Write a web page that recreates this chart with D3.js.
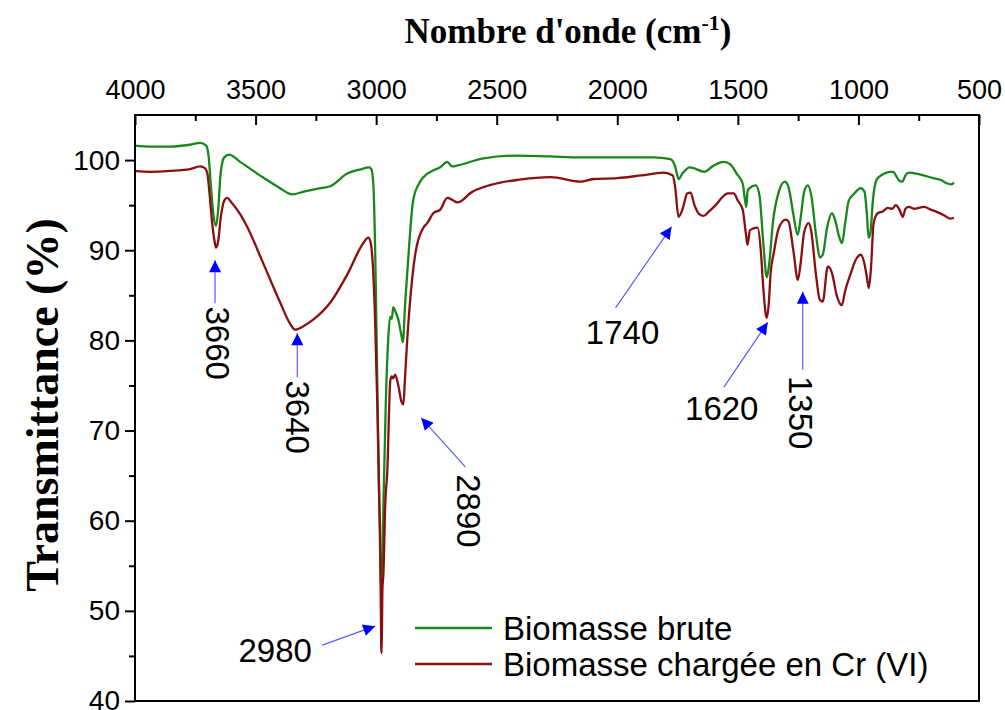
<!DOCTYPE html>
<html>
<head>
<meta charset="utf-8">
<script src="https://cdn.jsdelivr.net/npm/d3@7.9.0/dist/d3.min.js"></script>
<style>
  body { margin: 0; background: #fff; }
  svg { display: block; }
  .tick text { font-family: "Liberation Sans", Arial, sans-serif; }
</style>
</head>
<body>
<svg id="chart" width="1005" height="710"></svg>
<script>
// ----- data -----
const xMajor = [4000, 3500, 3000, 2500, 2000, 1500, 1000, 500];
const yMajor = [40, 50, 60, 70, 80, 90, 100];

// Biomasse brute (green)
const bruteWave = [4000, 3938, 3855, 3772, 3730, 3705, 3695, 3685, 3675, 3664, 3655, 3645, 3630, 3610, 3564,
  3470, 3400, 3348, 3300, 3230, 3190, 3120, 3060, 3030, 3020, 3012, 3004, 2995, 2987, 2981, 2978, 2974,
  2970, 2960, 2950, 2942, 2935, 2929, 2920, 2908, 2895, 2889, 2880, 2871, 2846, 2820, 2804, 2760, 2734,
  2705, 2685, 2663, 2555, 2414, 2277, 2152, 2000, 1850, 1780, 1760, 1746, 1730, 1700, 1683, 1640, 1600,
  1559, 1530, 1505, 1480, 1470, 1465, 1460, 1455, 1425, 1410, 1395, 1380, 1370, 1355, 1330, 1305, 1290,
  1270, 1252, 1240, 1225, 1210, 1195, 1175, 1160, 1148, 1130, 1110, 1095, 1080, 1068, 1055, 1040, 1020,
  990, 975, 965, 958, 950, 940, 925, 900, 870, 855, 845, 830, 818, 805, 790, 760, 730, 690, 660, 630, 615, 604];
const bruteT = [101.6, 101.5, 101.5, 101.7, 101.9, 101.6, 100.5, 97, 94, 92.7, 94.5, 98.5, 100.3, 100.6, 99.8,
  98.1, 96.9, 96.2, 96.5, 96.9, 97.1, 98.5, 99.0, 99.2, 99.0, 97.5, 90, 75, 62, 53.5, 52.5, 55,
  61.6, 73, 80.1, 82.6, 82.4, 83.7, 83.2, 82.3, 80.5, 79.8, 84, 87.5, 95.6, 97.5, 98.1, 98.9, 99.2,
  99.8, 99.3, 99.4, 100.2, 100.5, 100.4, 100.3, 100.3, 100.3, 100.1, 99.3, 97.9, 98.5, 99.2, 99.1, 98.7, 99.4,
  99.8, 99.5, 98.5, 97.4, 95.5, 94.8, 96.5, 96.8, 97.2, 96.0, 91, 87, 88.5, 93, 96.5, 97.6, 97.0,
  94, 91.7, 93.5, 96.5, 97.2, 96.0, 91.5, 89.2, 89.5, 92.5, 94.1, 93.2, 91.5, 90.8, 93, 95.5, 96.2,
  96.9, 96.5, 94, 91.4, 92, 95.5, 97.8, 98.4, 98.7, 98.7, 98.3, 97.7, 97.6, 98.3, 98.6, 98.5, 98.3, 98.0, 97.8, 97.4, 97.3, 97.5];

// Biomasse chargee en Cr (VI) (dark red)
const chargeWave = [4000, 3938, 3855, 3772, 3730, 3710, 3700, 3690, 3680, 3670, 3664, 3655, 3645, 3630, 3618,
  3600, 3564, 3535, 3469, 3398, 3360, 3336, 3300, 3261, 3190, 3120, 3053, 3033, 3024, 3012, 3004, 2995,
  2987, 2983, 2979, 2977, 2974, 2970, 2962, 2954, 2941, 2935, 2929, 2921, 2908, 2895, 2887, 2880, 2871,
  2850, 2837, 2804, 2788, 2763, 2734, 2705, 2685, 2663, 2600, 2555, 2485, 2414, 2277, 2152, 2100, 1999,
  1900, 1808, 1770, 1760, 1746, 1730, 1710, 1696, 1680, 1660, 1642, 1620, 1592, 1560, 1542, 1517, 1500,
  1480, 1467, 1460, 1450, 1438, 1418, 1405, 1395, 1385, 1380, 1372, 1364, 1351, 1330, 1301, 1290, 1270,
  1251, 1240, 1225, 1206, 1195, 1177, 1160, 1148, 1127, 1110, 1090, 1069, 1055, 1031, 1010, 990, 975,
  965, 957, 948, 937, 920, 900, 878, 860, 845, 830, 816, 805, 791, 770, 728, 700, 670, 640, 620, 604];
const chargeT = [98.8, 98.7, 98.8, 99.0, 99.3, 99.1, 98.5, 96, 93, 91, 90.3, 91, 93.5, 95.5, 95.8,
  95.3, 94, 92.6, 88.6, 84.2, 82.0, 81.2, 81.6, 82.3, 84.2, 87.3, 90.8, 91.4, 91.0, 87.5, 82, 72.6,
  62, 57.9, 46, 45.3, 52.4, 54, 62, 65.3, 75.6, 76.0, 75.8, 76.2, 75.0, 73.2, 72.9, 76, 80.1,
  87, 89.7, 92.5, 93.0, 94.1, 94.5, 95.8, 95.6, 95.3, 96.5, 97.0, 97.5, 97.8, 98.1, 97.6, 97.9, 98.0,
  98.3, 98.6, 98.3, 97, 93.7, 94.5, 96.3, 96.4, 95, 94, 93.8, 94.3, 95.0, 96, 96.3, 96.3, 95.5,
  94.5, 91.9, 90.6, 92.2, 92.4, 92.5, 90, 86, 83, 82.5, 84, 87.5, 89.7, 92.5, 93.4, 93.2, 90,
  86.7, 88.5, 92, 93.0, 92, 87.5, 84.5, 84.3, 88.2, 87.5, 85, 83.9, 85.5, 87.5, 89.0, 89.5, 88.5,
  87, 85.8, 88, 93, 94.1, 94.3, 94.7, 94.6, 95.0, 94.5, 93.7, 94.6, 94.8, 94.6, 94.8, 94.5, 94.2, 93.8, 93.5, 93.6];

const seriesNames = ["Biomasse brute", "Biomasse chargée en Cr (VI)"];
const seriesColors = ["#16881a", "#8b0f0f"];

// annotated bands: label, arrow tip (wavenumber, transmittance)
const bandLabels = ["3660", "3640", "2980", "2890", "1740", "1620", "1350"];
const bandWave = [3668, 3327, 3004, 2813, 1775, 1376, 1231];
const bandT = [88.9, 80.8, 48.3, 71.4, 92.6, 82.0, 85.4];

// ----- layout -----
const M = { left: 135, right: 979, top: 115, bottom: 701 };
// arrow tail and label placement relative to the tip (pixels), rot = vertical text
const bandLayout = [
  { tail: [0, 43], text: [2, 83], rot: true },
  { tail: [0, 44], text: [0, 84], rot: true },
  { tail: [-53, 19], text: [-100, 24], rot: false },
  { tail: [44, 49], text: [47, 93], rot: true },
  { tail: [-56, 81], text: [-49, 106], rot: false },
  { tail: [-44, 65], text: [-46, 86], rot: false },
  { tail: [0, 78], text: [-2, 121], rot: true }
];

const svg = d3.select("#chart");
svg.append("rect").attr("width", 1005).attr("height", 710).attr("fill", "#fff");

const x = d3.scaleLinear().domain([4000, 500]).range([M.left, M.right]);
const y = d3.scaleLinear().domain([40, 105]).range([M.bottom, M.top]);

// ----- curves -----
const line = d3.line()
  .x(d => x(d[0]))
  .y(d => y(d[1]))
  .curve(d3.curveMonotoneX);

const series = [
  d3.zip(bruteWave, bruteT),
  d3.zip(chargeWave, chargeT)
];

svg.append("g").selectAll("path")
  .data(series)
  .join("path")
  .attr("d", line)
  .attr("fill", "none")
  .attr("stroke", (d, i) => seriesColors[i])
  .attr("stroke-width", 2.3)
  .attr("stroke-linejoin", "round");

// ----- axes -----
const topAxis = svg.append("g").attr("transform", `translate(0,${M.top})`)
  .call(d3.axisTop(x).tickValues(xMajor).tickSize(-10).tickPadding(16).tickFormat(d3.format("d")));
svg.append("g").attr("transform", `translate(0,${M.top})`)
  .call(d3.axisTop(x).tickValues(xMajor.slice(0, -1).map(v => v - 250)).tickSize(-6).tickFormat(""));

const leftAxis = svg.append("g").attr("transform", `translate(${M.left},0)`)
  .call(d3.axisLeft(y).tickValues(yMajor).tickSize(10).tickPadding(5));
svg.append("g").attr("transform", `translate(${M.left},0)`)
  .call(d3.axisLeft(y).tickValues(yMajor.slice(0, -1).map(v => v + 5)).tickSize(6).tickFormat(""));

svg.selectAll(".domain").remove();
svg.selectAll(".tick line").attr("stroke", "#000").attr("stroke-width", 2);
topAxis.selectAll("text").attr("font-size", 27).attr("fill", "#000");
leftAxis.selectAll("text").attr("font-size", 28).attr("fill", "#000");

// frame
svg.append("rect")
  .attr("x", M.left).attr("y", M.top)
  .attr("width", M.right - M.left).attr("height", M.bottom - M.top)
  .attr("fill", "none").attr("stroke", "#000").attr("stroke-width", 2);

// axis titles
const xTitle = svg.append("text")
  .attr("x", 568).attr("y", 43)
  .attr("text-anchor", "middle")
  .attr("font-family", "'Liberation Serif', 'Times New Roman', serif")
  .attr("font-weight", "bold").attr("font-size", 35);
xTitle.append("tspan").text("Nombre d'onde (cm");
xTitle.append("tspan").attr("dy", -13).attr("font-size", 22).text("-1");
xTitle.append("tspan").attr("dy", 13).text(")");

svg.append("text")
  .attr("transform", "translate(58,405) rotate(-90)")
  .attr("text-anchor", "middle")
  .attr("font-family", "'Liberation Serif', 'Times New Roman', serif")
  .attr("font-weight", "bold").attr("font-size", 46)
  .text("Transmittance (%)");

// ----- band annotations -----
const defs = svg.append("defs");
defs.append("marker")
  .attr("id", "head")
  .attr("viewBox", "0 0 10 10")
  .attr("refX", 10).attr("refY", 5)
  .attr("markerWidth", 14).attr("markerHeight", 12)
  .attr("markerUnits", "userSpaceOnUse")
  .attr("orient", "auto")
  .append("path").attr("d", "M0,0 L10,5 L0,10 Z").attr("fill", "#0000ff");

const bands = svg.append("g").selectAll("g")
  .data(bandLabels.map((label, i) => ({ label, w: bandWave[i], t: bandT[i], lay: bandLayout[i] })))
  .join("g")
  .attr("transform", d => `translate(${x(d.w)},${y(d.t)})`);

bands.append("line")
  .attr("x1", d => d.lay.tail[0]).attr("y1", d => d.lay.tail[1])
  .attr("x2", 0).attr("y2", 0)
  .attr("stroke", "#5b5bff").attr("stroke-width", 1.2)
  .attr("marker-end", "url(#head)");

bands.append("text")
  .attr("transform", d => `translate(${d.lay.text[0]},${d.lay.text[1]})` + (d.lay.rot ? " rotate(90)" : ""))
  .attr("text-anchor", "middle")
  .attr("dominant-baseline", "central")
  .attr("font-family", "'Liberation Sans', Arial, sans-serif")
  .attr("font-size", 33)
  .attr("fill", "#000")
  .text(d => d.label);

// ----- legend -----
const legend = svg.append("g").attr("transform", "translate(415,628)");
const items = legend.selectAll("g")
  .data(seriesNames)
  .join("g")
  .attr("transform", (d, i) => `translate(0,${i * 36})`);
items.append("line")
  .attr("x1", 0).attr("x2", 77)
  .attr("stroke", (d, i) => seriesColors[i]).attr("stroke-width", 2.3);
items.append("text")
  .attr("x", 88).attr("dy", "0.35em")
  .attr("font-family", "'Liberation Sans', Arial, sans-serif")
  .attr("font-size", 33)
  .attr("fill", "#000")
  .text(d => d);
</script>
</body>
</html>
